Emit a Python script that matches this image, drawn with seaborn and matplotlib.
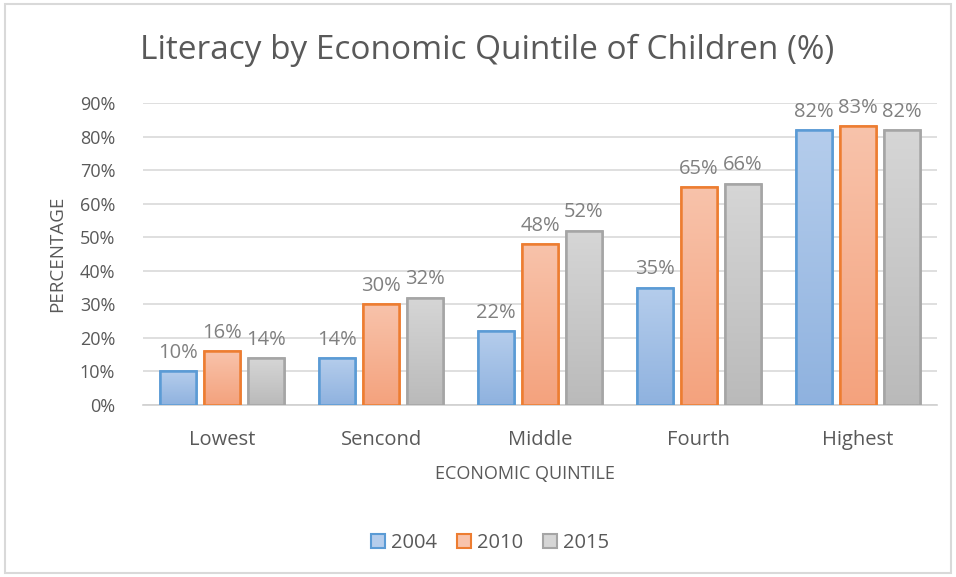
import matplotlib
matplotlib.use("Agg")
import matplotlib.pyplot as plt
import seaborn as sns
import pandas as pd
import numpy as np
from matplotlib.colors import LinearSegmentedColormap
from matplotlib.patches import Rectangle

categories = ["Lowest", "Sencond", "Middle", "Fourth", "Highest"]
years = ["2004", "2010", "2015"]
v2004 = [10, 14, 22, 35, 82]
v2010 = [16, 30, 48, 65, 83]
v2015 = [14, 32, 52, 66, 82]
yticks = [0, 10, 20, 30, 40, 50, 60, 70, 80, 90]

rows = []
for yr, vals in zip(years, [v2004, v2010, v2015]):
    for c, v in zip(categories, vals):
        rows.append({"Quintile": c, "Year": yr, "Value": v / 100})
df = pd.DataFrame(rows)

edge_cols = ["#5b9bd5", "#ed7d31", "#a5a5a5"]
grad_top = ["#b5cdec", "#f8c3ab", "#d6d6d6"]
grad_bot = ["#8fb2df", "#f4a27d", "#bababa"]
text_col = "#595959"
lab_col = "#808080"

sns.set_theme(style="white")
plt.rcParams['font.family'] = ['Open Sans', 'DejaVu Sans']

fig = plt.figure(figsize=(9.56, 5.77), dpi=100)
ax = fig.add_axes([143/956, 1 - 405/577, (937-143)/956, (405-103)/577])

sns.barplot(data=df, x="Quintile", y="Value", hue="Year", order=categories,
            hue_order=years, palette=grad_top, width=0.83, gap=0.18,
            ax=ax, legend=False, zorder=3)

ax.set_ylim(0, 0.9)
ax.set_xlim(-0.5, 4.5)
ax.set_yticks([t / 100 for t in yticks])
ax.set_yticklabels([f"{t}%" for t in yticks], color=text_col, fontsize=13)
ax.tick_params(axis='x', colors=text_col, labelsize=14.5, length=0, pad=18)
ax.tick_params(axis='y', length=0, pad=20)
for s in ["top", "right", "left"]:
    ax.spines[s].set_visible(False)
ax.spines["bottom"].set_color("#d0d0d0")
ax.spines["bottom"].set_linewidth(1.2)
ax.grid(axis='y', color="#d9d9d9", linewidth=1.2, zorder=0)
ax.set_axisbelow(True)

ax.set_xlabel("ECONOMIC QUINTILE", color=text_col, fontsize=13)
ax.xaxis.set_label_coords((525 - 143) / 794, -(474 - 405) / 302)
ax.xaxis.label.set_va('center')
ax.set_ylabel("PERCENTAGE", color=text_col, fontsize=13.5, labelpad=10)

# gradient fills & edges
for i, cont in enumerate(ax.containers):
    cmap = LinearSegmentedColormap.from_list("g", [grad_bot[i], grad_top[i]])
    for patch in cont:
        patch.set_edgecolor(edge_cols[i])
        patch.set_linewidth(1.8)
        x0, y0 = patch.get_x(), patch.get_y()
        w, h = patch.get_width(), patch.get_height()
        grad = np.linspace(0, 1, 256).reshape(-1, 1)
        im = ax.imshow(grad, cmap=cmap, extent=[x0, x0 + w, y0, y0 + h],
                       origin='lower', aspect='auto', zorder=3.5)
        im.set_clip_path(patch)
        p2 = Rectangle((x0, y0), w, h, fill=False, edgecolor=edge_cols[i],
                       linewidth=1.8, zorder=4)
        ax.add_patch(p2)
    ax.bar_label(cont, labels=[f"{round(p.get_height()*100)}%" for p in cont],
                 padding=6, color=lab_col, fontsize=14.5)
ax.set_xlim(-0.5, 4.5)
ax.set_ylim(0, 0.9)

fig.text(487/956, 1 - 50/577, "Literacy by Economic Quintile of Children (%)",
         ha='center', va='center', fontsize=24, color=text_col)

# legend
handles = [Rectangle((0, 0), 1, 1, facecolor=grad_top[i], edgecolor=edge_cols[i], linewidth=1.5)
           for i in range(3)]
fig.legend(handles, years, loc='center', bbox_to_anchor=(490/956, 1 - 543/577), ncol=3,
           frameon=False, fontsize=14.5, labelcolor=text_col, handlelength=0.7,
           handleheight=0.7, handletextpad=0.3, columnspacing=1.0)

fig.patches.append(Rectangle((5/956, 4/577), 946/956, 569/577, transform=fig.transFigure,
                             fill=False, edgecolor="#d9d9d9", linewidth=1.5))

fig.savefig("out.png", dpi=100)
